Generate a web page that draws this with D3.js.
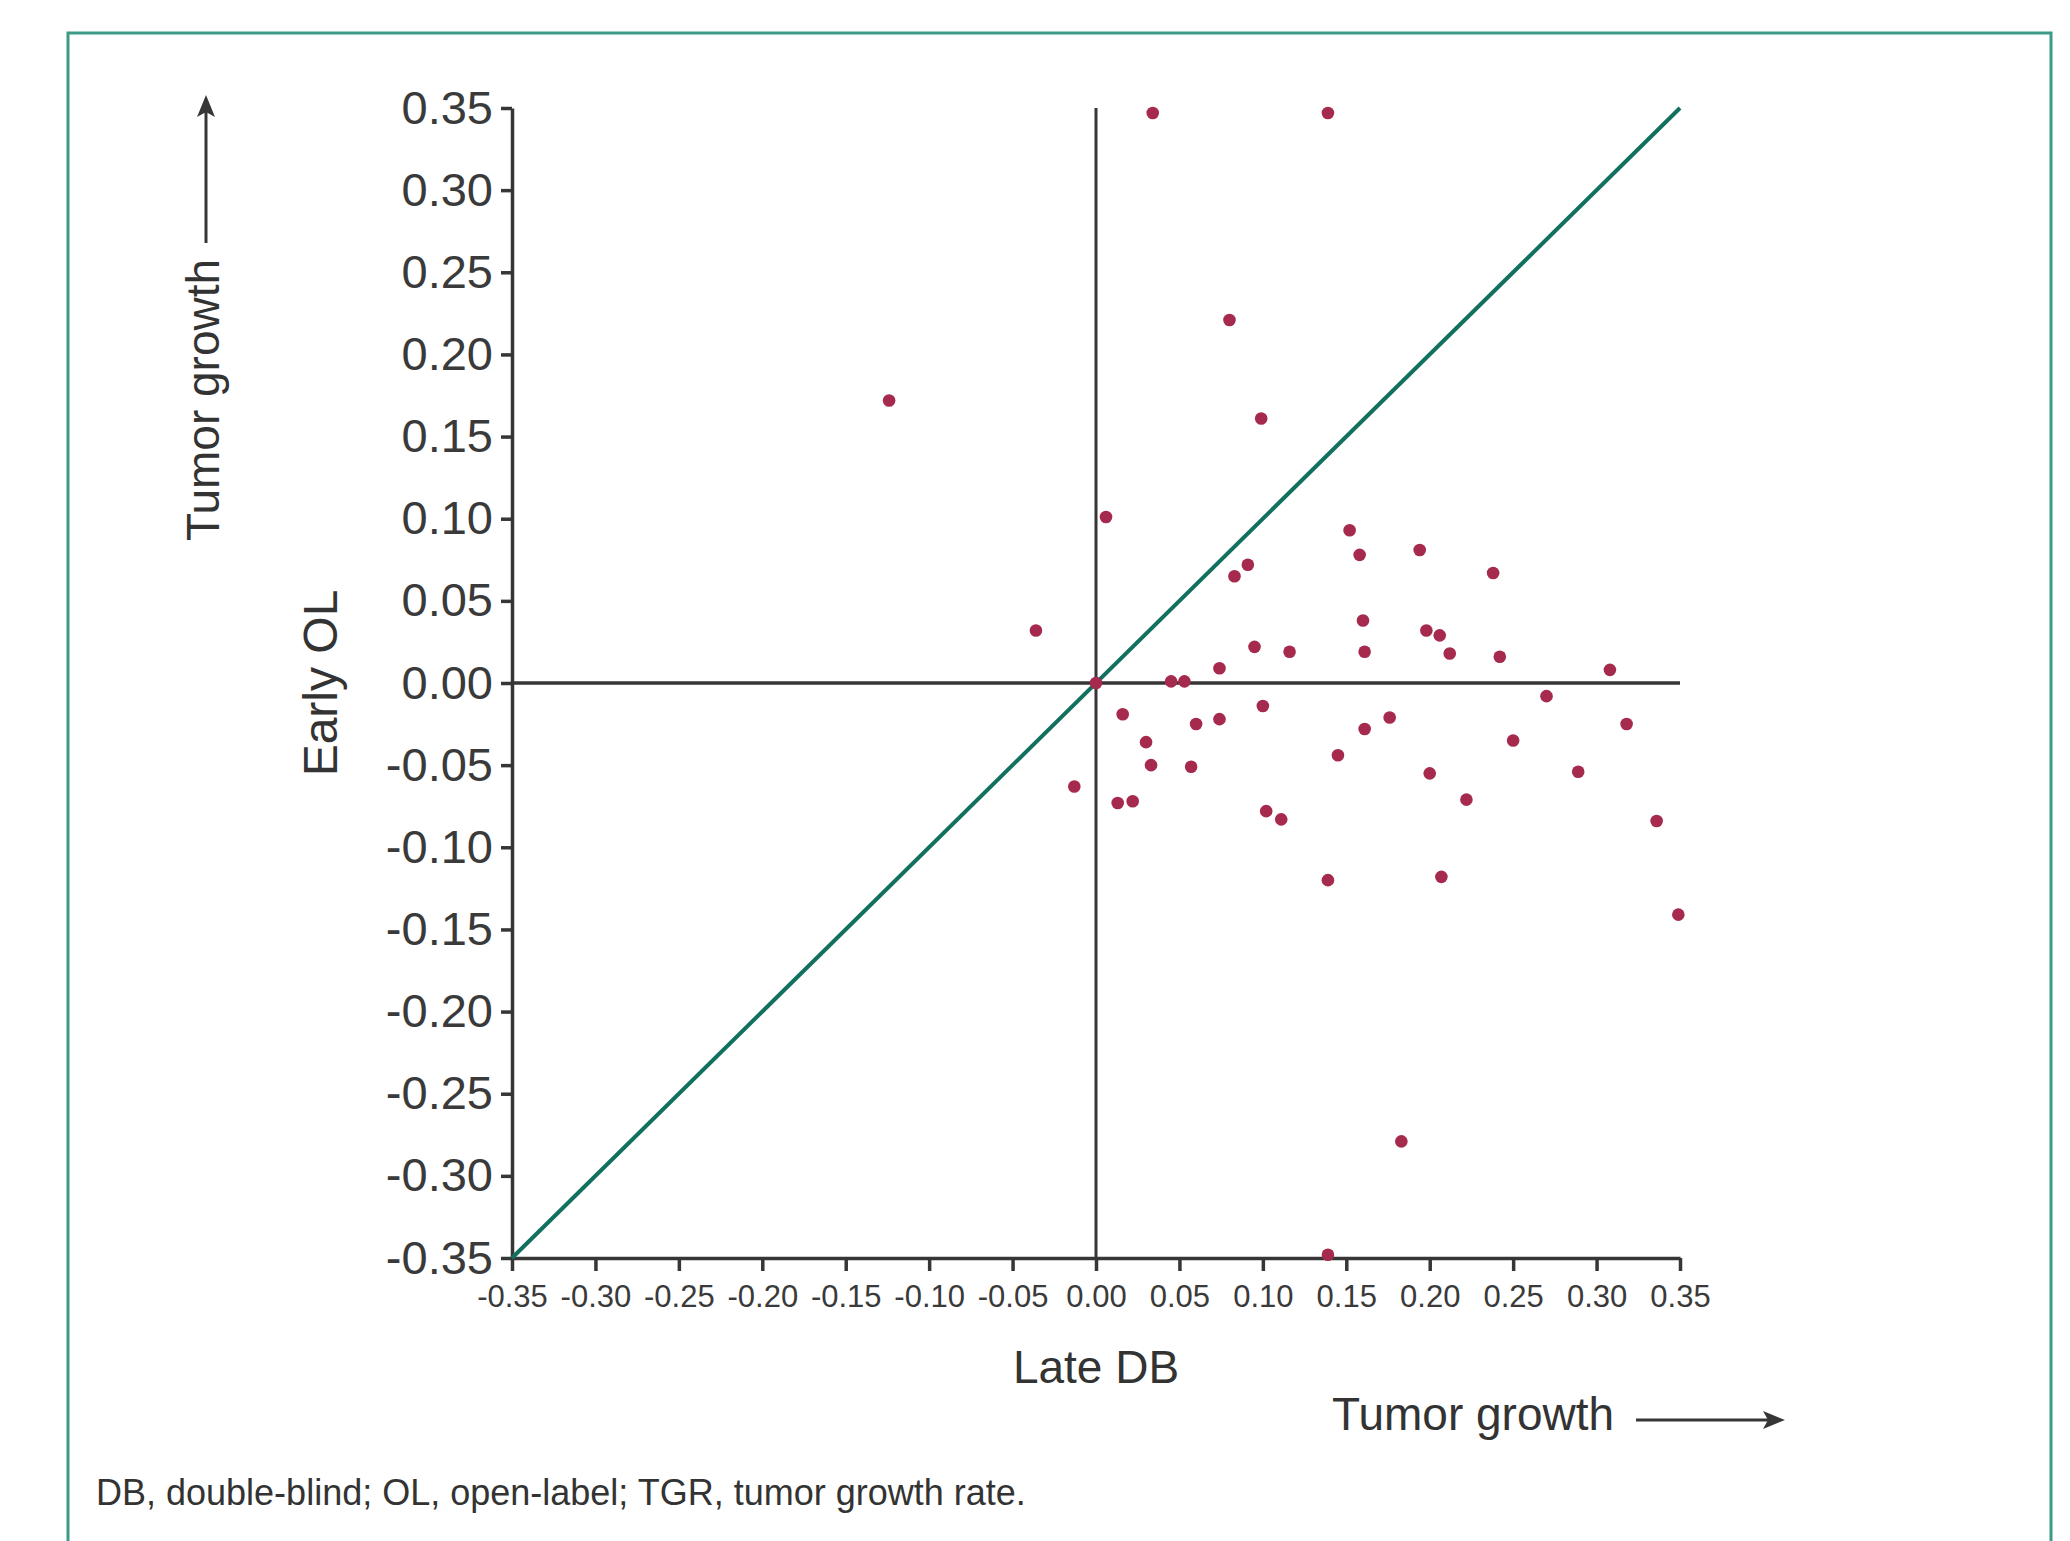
<!DOCTYPE html>
<html>
<head>
<meta charset="utf-8">
<script src="https://cdn.jsdelivr.net/npm/d3@7"></script>
<style>
  body { margin: 0; background: #fff; }
  text { font-family: "Liberation Sans", Arial, sans-serif; fill: #333; }
</style>
</head>
<body>
<script>
// TGR per patient: late double-blind (x) vs early open-label (y)
const lateDB = [0.034, 0.139, 0.080, -0.124, 0.099, 0.006, 0.152, 0.158, 0.194, 0.091,
  0.083, 0.238, -0.036, 0.160, 0.198, 0.206, 0.095, 0.116, 0.161, 0.212,
  0.242, 0.074, 0.308, 0.000, 0.045, 0.053, 0.270, 0.016, 0.100, 0.060,
  0.074, 0.176, 0.161, 0.318, 0.030, 0.250, 0.145, 0.033, 0.057, 0.200,
  0.289, -0.013, 0.013, 0.022, 0.222, 0.102, 0.111, 0.336, 0.139, 0.207,
  0.349, 0.183, 0.139];
const earlyOL = [0.347, 0.347, 0.221, 0.172, 0.161, 0.101, 0.093, 0.078, 0.081, 0.072,
  0.065, 0.067, 0.032, 0.038, 0.032, 0.029, 0.022, 0.019, 0.019, 0.018,
  0.016, 0.009, 0.008, 0.000, 0.001, 0.001, -0.008, -0.019, -0.014, -0.025,
  -0.022, -0.021, -0.028, -0.025, -0.036, -0.035, -0.044, -0.050, -0.051, -0.055,
  -0.054, -0.063, -0.073, -0.072, -0.071, -0.078, -0.083, -0.084, -0.120, -0.118,
  -0.141, -0.279, -0.348];
const tickValues = [-0.35, -0.30, -0.25, -0.20, -0.15, -0.10, -0.05, 0.00,
  0.05, 0.10, 0.15, 0.20, 0.25, 0.30, 0.35];
const axisMin = -0.35;
const axisMax = 0.35;

const points = lateDB.map((d, i) => ({ x: d, y: earlyOL[i] }));

const width = 2070;
const height = 1541;
const axisColor = "#363636";

const svg = d3.select("body")
  .append("svg")
  .attr("width", width)
  .attr("height", height);

// outer teal frame (bottom edge runs off the page)
svg.append("rect")
  .attr("x", 68)
  .attr("y", 33)
  .attr("width", 1983)
  .attr("height", 1540)
  .style("fill", "none")
  .style("stroke", "#3d9988")
  .style("stroke-width", 3);

const xScale = d3.scaleLinear()
  .domain([axisMin, axisMax])
  .range([512, 1680]);

const yScale = d3.scaleLinear()
  .domain([axisMin, axisMax])
  .range([1258, 108]);

const fmt = (d) => d.toFixed(2);

// axes
const yAxis = svg.append("g")
  .attr("transform", "translate(" + xScale(axisMin) + ",0)")
  .call(d3.axisLeft(yScale).tickValues(tickValues).tickFormat(fmt)
    .tickSize(11).tickSizeOuter(0).tickPadding(8));

const xAxis = svg.append("g")
  .attr("transform", "translate(0," + yScale(axisMin) + ")")
  .call(d3.axisBottom(xScale).tickValues(tickValues).tickFormat(fmt)
    .tickSize(13).tickSizeOuter(0).tickPadding(14));

[yAxis, xAxis].forEach((a) => {
  a.selectAll("path, line")
    .style("stroke", axisColor)
    .style("stroke-width", 3.5);
});
yAxis.selectAll("text")
  .style("font-size", "47px")
  .style("fill", "#3a3a3a");
xAxis.selectAll("text")
  .style("font-size", "31px")
  .style("fill", "#3a3a3a");

// zero reference lines
svg.append("line")
  .attr("x1", xScale(0)).attr("x2", xScale(0))
  .attr("y1", yScale(axisMax)).attr("y2", yScale(axisMin))
  .style("stroke", axisColor)
  .style("stroke-width", 3);

svg.append("line")
  .attr("x1", xScale(axisMin)).attr("x2", xScale(axisMax))
  .attr("y1", yScale(0)).attr("y2", yScale(0))
  .style("stroke", axisColor)
  .style("stroke-width", 3.5);

// line of identity
svg.append("line")
  .attr("x1", xScale(axisMin)).attr("y1", yScale(axisMin))
  .attr("x2", xScale(axisMax)).attr("y2", yScale(axisMax))
  .style("stroke", "#12705e")
  .style("stroke-width", 4);

// patients
svg.selectAll(".pt")
  .data(points)
  .enter()
  .append("circle")
  .attr("class", "pt")
  .attr("cx", (d) => xScale(d.x))
  .attr("cy", (d) => yScale(d.y))
  .attr("r", 6.3)
  .style("fill", "#a52a4d");

// axis titles
svg.append("text")
  .attr("x", xScale(0))
  .attr("y", 1383)
  .attr("text-anchor", "middle")
  .style("font-size", "46px")
  .text("Late DB");

svg.append("text")
  .attr("transform", "translate(337," + yScale(0) + ") rotate(-90)")
  .attr("text-anchor", "middle")
  .style("font-size", "48px")
  .text("Early OL");

// direction hints
svg.append("text")
  .attr("x", 1332)
  .attr("y", 1430)
  .style("font-size", "46px")
  .text("Tumor growth");

svg.append("line")
  .attr("x1", 1636).attr("y1", 1420)
  .attr("x2", 1770).attr("y2", 1420)
  .style("stroke", axisColor)
  .style("stroke-width", 3);

svg.append("path")
  .attr("d", "M1785,1420 L1763,1411 L1768,1420 L1763,1429 Z")
  .style("fill", axisColor);

svg.append("text")
  .attr("transform", "translate(219,541) rotate(-90)")
  .style("font-size", "46px")
  .text("Tumor growth");

svg.append("line")
  .attr("x1", 206).attr("y1", 243)
  .attr("x2", 206).attr("y2", 110)
  .style("stroke", axisColor)
  .style("stroke-width", 3);

svg.append("path")
  .attr("d", "M206,95 L197,117 L206,112 L215,117 Z")
  .style("fill", axisColor);

// footnote
svg.append("text")
  .attr("x", 96)
  .attr("y", 1505)
  .style("font-size", "36px")
  .text("DB, double-blind; OL, open-label; TGR, tumor growth rate.");
</script>
</body>
</html>
